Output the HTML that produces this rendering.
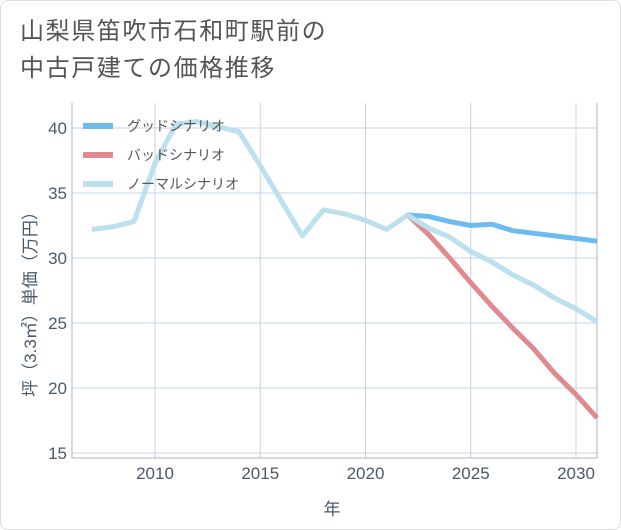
<!DOCTYPE html>
<html><head><meta charset="utf-8"><style>
body{margin:0;background:#fff;}
#wrap{position:relative;width:619px;height:528px;border:1px solid #ddd;border-radius:8px;font-family:"Liberation Sans","Noto Sans CJK JP",sans-serif;overflow:hidden}
#title{position:absolute;left:19px;top:12px;font-size:24px;line-height:37px;color:#555;letter-spacing:1.6px}
</style></head><body>
<div id="wrap">
<div id="title">山梨県笛吹市石和町駅前の<br>中古戸建ての価格推移</div>
<svg id="chart" width="621" height="530" style="position:absolute;left:-1px;top:-1px"></svg>
</div>
<script>
const years=[2007,2008,2009,2010,2011,2012,2013,2014,2015,2016,2017,2018,2019,2020,2021,2022,2023,2024,2025,2026,2027,2028,2029,2030,2031];
const normal=[32.2,32.4,32.8,37.3,40.3,40.5,40.1,39.7,37.1,34.4,31.7,33.7,33.4,32.9,32.2,33.3,32.3,31.6,30.5,29.7,28.7,27.9,26.9,26.1,25.1];
const fYears=[2022,2023,2024,2025,2026,2027,2028,2029,2030,2031];
const good=[33.3,33.2,32.8,32.5,32.6,32.1,31.9,31.7,31.5,31.3];
const bad=[33.3,31.8,30.0,28.1,26.3,24.6,23.0,21.1,19.5,17.7];
const xTicks=[2010,2015,2020,2025,2030];
const yTicks=[15,20,25,30,35,40];
const L=72,R=597,T=103,B=458;
const x=v=>155+(v-2010)*21.05;
const y=v=>258-(v-30)*13;
const svg=document.getElementById('chart');
const NS='http://www.w3.org/2000/svg';
function mk(t,a){const e=document.createElementNS(NS,t);for(const k in a)e.setAttribute(k,a[k]);svg.appendChild(e);return e;}
xTicks.forEach(v=>{
 const g=mk('line',{x1:x(v),x2:x(v),y1:T,y2:B,stroke:'#c6d3e0','stroke-width':1});
 
 
 const t=mk('text',{x:x(v),y:479,'text-anchor':'middle','font-size':17,fill:'#4a5a6a'});t.textContent=v;
 
 
});
yTicks.forEach(v=>{
 const g=mk('line',{x1:L,x2:R,y1:y(v),y2:y(v),stroke:'#c6d3e0','stroke-width':1});
 
 
 const t=mk('text',{x:67,y:y(v)+6,'text-anchor':'end','font-size':17,fill:'#4a5a6a'});t.textContent=v;
 
 
});
const fr=mk('path',{d:`M${L},${T} V${B} H${R} V${T}`,fill:'none',stroke:'#aab4be','stroke-width':1});


function line(xs,ys,c,name){
 const p=mk('polyline',{points:xs.map((v,i)=>x(v)+','+y(ys[i])).join(' '),fill:'none',stroke:c,'stroke-width':5,'stroke-linejoin':'round'});
 
 
}
line(years,normal,'#bde0ee','normal-scenario-line');
line(fYears,bad,'#e08a90','bad-scenario-line');
line(fYears,good,'#6cbcf2','good-scenario-line');
line(fYears,normal.slice(15),'#bde0ee','normal-scenario-forecast');
const leg=[['グッドシナリオ','#6cbcf2'],['バッドシナリオ','#e08a90'],['ノーマルシナリオ','#bde0ee']];
leg.forEach((l,i)=>{
 const yy=126+i*29;
 const r=mk('rect',{x:83,y:yy-3,width:30,height:6,fill:l[1]});
 
 
 const t=mk('text',{x:127,y:yy+5,'font-size':14,fill:'#555'});t.textContent=l[0];
 
 
});
const xt=mk('text',{x:332,y:515,'text-anchor':'middle','font-size':17,fill:'#4a5a6a'});xt.textContent='年';


const yt=mk('text',{x:0,y:0,'text-anchor':'middle','font-size':17,fill:'#4a5a6a',transform:'translate(36,300) rotate(-90)'});yt.textContent='坪（3.3㎡）単価（万円）';


</script>
</body></html>
